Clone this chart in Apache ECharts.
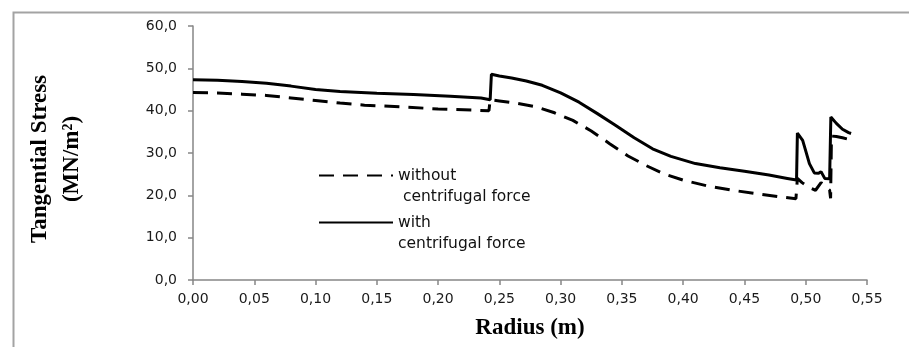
<!DOCTYPE html>
<html>
<head>
<meta charset="utf-8">
<script src="https://cdn.jsdelivr.net/npm/echarts@6/dist/echarts.min.js"></script>
<style>
  html, body { margin: 0; padding: 0; background: #fff; }
  #chart { width: 909px; height: 347px; }
</style>
</head>
<body>
<div id="chart"></div>
<script>
// ---- data ----
const seriesNames = ['without\n centrifugal force', 'with\ncentrifugal force'];

const radiusWithout = [0, 0.02, 0.04, 0.06, 0.08, 0.10, 0.12, 0.14, 0.17, 0.20, 0.23, 0.2415, 0.2425,
  0.25, 0.265, 0.28, 0.295, 0.31, 0.325, 0.34, 0.355, 0.37, 0.385, 0.40, 0.42, 0.44, 0.46, 0.48,
  0.492, 0.4932, 0.497, 0.503, 0.508, 0.5125, 0.5165, 0.5195, 0.5203, 0.521, 0.525, 0.53, 0.537];
const stressWithout = [44.3, 44.2, 43.9, 43.6, 43.0, 42.4, 41.8, 41.3, 40.9, 40.4, 40.1, 40.0, 42.6,
  42.3, 41.7, 40.9, 39.5, 37.7, 35.2, 32.2, 29.3, 27.0, 25.0, 23.6, 22.2, 21.2, 20.4, 19.6,
  19.2, 24.0, 23.0, 21.8, 21.2, 23.0, 21.9, 21.2, 19.3, 34.0, 33.9, 33.6, 33.1];

const radiusWith = [0, 0.02, 0.04, 0.06, 0.08, 0.10, 0.12, 0.15, 0.18, 0.21, 0.235, 0.2425, 0.2435,
  0.25, 0.26, 0.272, 0.285, 0.30, 0.315, 0.33, 0.345, 0.36, 0.375, 0.39, 0.41, 0.43, 0.45, 0.47,
  0.485, 0.4925, 0.4932, 0.4945, 0.4975, 0.50, 0.503, 0.507, 0.5105, 0.5125, 0.5155, 0.5195,
  0.5205, 0.5215, 0.525, 0.530, 0.535, 0.537];
const stressWith = [47.3, 47.2, 46.9, 46.5, 45.8, 45.0, 44.5, 44.1, 43.8, 43.4, 43.0, 42.6, 48.6,
  48.2, 47.7, 47.0, 46.0, 44.2, 42.0, 39.3, 36.5, 33.6, 31.0, 29.2, 27.5, 26.5, 25.7, 24.8,
  24.0, 23.6, 34.7, 34.5, 33.0, 30.5, 27.5, 25.3, 25.2, 25.6, 24.0, 23.9,
  38.5, 38.6, 37.0, 35.6, 34.8, 34.6];

const xMin = 0, xMax = 0.55, xStep = 0.05;
const yMin = 0, yMax = 60, yStep = 10;
const xTitle = 'Radius (m)';
const yTitle = 'Tangential Stress\n(MN/m²)';

// ---- chart ----
function zip(a, b) { return a.map((v, i) => [v, b[i]]); }
const chart = echarts.init(document.getElementById('chart'), null, { renderer: 'canvas' });

const axisGray = '#868686';
const tickFont = { fontFamily: 'DejaVu Sans', fontSize: 14, color: '#1a1a1a' };
const legendText = { fontFamily: 'DejaVu Sans', fontSize: 15.5, color: '#111', lineHeight: 21 };

function legendCfg(name, top) {
  return {
    data: [name], left: 318, top: top, padding: 0, orient: 'vertical',
    itemWidth: 74, itemHeight: 6, selectedMode: false,
    formatter: n => '\n' + n,
    itemStyle: { opacity: 0 },
    textStyle: legendText
  };
}

chart.setOption({
  animation: false,
  backgroundColor: '#fff',
  graphic: [{
    type: 'rect', left: 11, top: 10, silent: true,
    shape: { width: 1000, height: 1000 },
    style: { fill: 'none', stroke: '#a3a3a3', lineWidth: 2 }
  }],
  grid: { left: 193, right: 42, top: 26, bottom: 67 },
  xAxis: {
    type: 'value', min: xMin, max: xMax, interval: xStep,
    name: xTitle, nameLocation: 'middle', nameGap: 37,
    nameTextStyle: { fontFamily: 'Liberation Serif', fontWeight: 'bold', fontSize: 23, color: '#000' },
    axisLine: { show: true, lineStyle: { color: axisGray, width: 1.5 } },
    axisTick: { show: true, length: 5, lineStyle: { color: axisGray, width: 1.5 } },
    axisLabel: Object.assign({ margin: 12, formatter: v => v.toFixed(2).replace('.', ',') }, tickFont),
    splitLine: { show: false }
  },
  yAxis: {
    type: 'value', min: yMin, max: yMax, interval: yStep,
    name: yTitle, nameLocation: 'middle', nameGap: 105, nameRotate: 90,
    nameTextStyle: { fontFamily: 'Liberation Serif', fontWeight: 'bold', fontSize: 23, lineHeight: 32,
      color: '#000', padding: [0, 12, 0, 0] },
    axisLine: { show: true, lineStyle: { color: axisGray, width: 1.5 } },
    axisTick: { show: true, length: 5, lineStyle: { color: axisGray, width: 1.5 } },
    axisLabel: Object.assign({ margin: 16, formatter: v => v.toFixed(1).replace('.', ',') }, tickFont),
    splitLine: { show: false }
  },
  legend: [legendCfg(seriesNames[0], 144), legendCfg(seriesNames[1], 191)],
  series: [{
    name: seriesNames[0], type: 'line', data: zip(radiusWithout, stressWithout),
    symbol: 'none', z: 2, itemStyle: { color: '#000' },
    lineStyle: { color: '#000', width: 3, type: [15, 9] }
  }, {
    name: seriesNames[1], type: 'line', data: zip(radiusWith, stressWith),
    symbol: 'none', z: 3, itemStyle: { color: '#000' },
    lineStyle: { color: '#000', width: 3, type: 'solid' }
  }]
});
</script>
</body>
</html>
